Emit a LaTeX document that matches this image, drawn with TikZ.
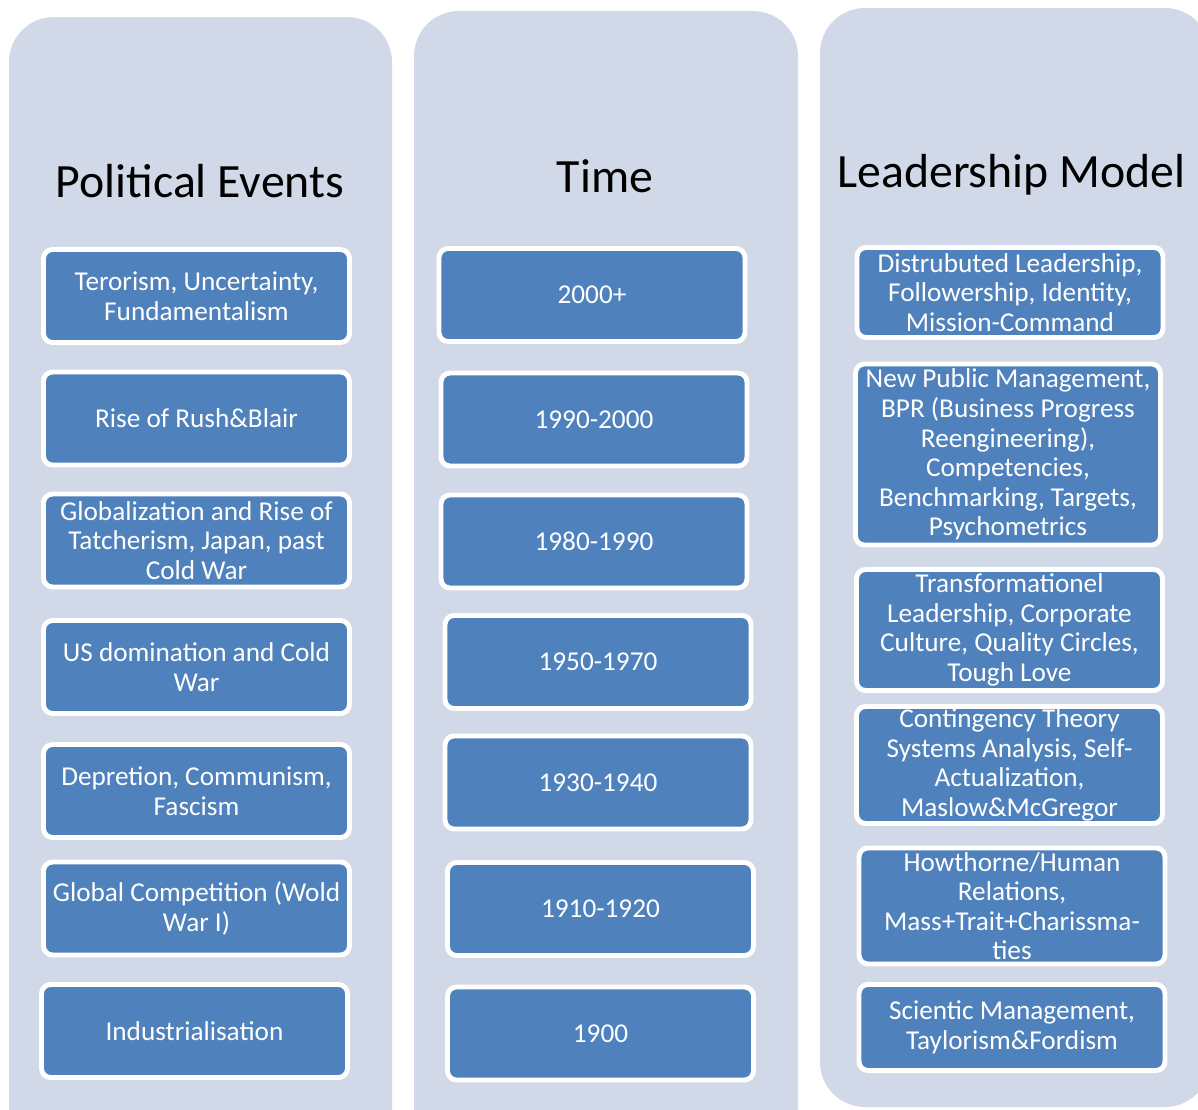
\documentclass[tikz,border=0pt]{standalone}
\usepackage{fontspec}
\setmainfont{Carlito}
\definecolor{panelgray}{HTML}{D1D8E7}
\definecolor{boxblue}{HTML}{4F81BD}
\tikzset{
  panel/.style={fill=panelgray, rounded corners=0.9cm},
  heading/.style={anchor=base, font=\fontsize{27.2}{31}\selectfont, text=black},
  itembox/.style={fill=boxblue, draw=white, line width=2.8pt, rounded corners=0.18cm,
    minimum width=6.12cm, minimum height=1.86cm, inner sep=0pt, align=center,
    text=white, font=\fontsize{15.5}{16.8}\selectfont}
}
\begin{document}
\begin{tikzpicture}[x=0.02cm, y=-0.02cm]
\useasboundingbox (0,0) rectangle (1198,1110);
\clip (0,0) rectangle (1198,1110);

%--- Background panels ---
\fill[panel] (9,17) rectangle (392,1170);
\fill[panel] (414,11) rectangle (798,1170);
\fill[panel] (820,8) rectangle (1210,1107);

%--- Political events ---
\node[heading] (pehead) at (200,197) {Political Events};
\node[itembox] (pe1) at (196.5,296) {Terorism, Uncertainty,\\Fundamentalism};
\node[itembox] (pe2) at (196.5,418.5) {Rise of Rush\&Blair};
\node[itembox] (pe3) at (196.5,540.5) {Globalization and Rise of\\Tatcherism, Japan, past\\Cold War};
\node[itembox] (pe4) at (196.5,667) {US domination and Cold\\War};
\node[itembox] (pe5) at (196.5,791) {Depretion, Communism,\\Fascism};
\node[itembox] (pe6) at (196.5,908.5) {Global Competition (Wold\\War I)};
\node[itembox] (pe7) at (194.5,1031) {Industrialisation};

%--- Time ---
\node[heading] (thead) at (605,192) {Time};
\node[itembox] (t1) at (592,295) {2000+};
\node[itembox] (t2) at (594,419.5) {1990-2000};
\node[itembox] (t3) at (594,541.5) {1980-1990};
\node[itembox] (t4) at (598,662) {1950-1970};
\node[itembox] (t5) at (598,782.5) {1930-1940};
\node[itembox] (t6) at (600.5,909) {1910-1920};
\node[itembox] (t7) at (600.5,1033.5) {1900};

%--- Leadership model ---
\node[heading] (lmhead) at (1011.5,187) {Leadership Model};
\node[itembox, minimum height=1.8cm] (lm1) at (1010,292.5)
  {Distrubuted Leadership,\\Followership, Identity,\\Mission-Command};
\node[itembox, minimum width=6.1cm, minimum height=3.62cm] (lm2) at (1008,454.5)
  {New Public Management,\\BPR (Business Progress\\Reengineering),\\Competencies,\\Benchmarking, Targets,\\Psychometrics};
\node[itembox, minimum height=2.42cm] (lm3) at (1009.5,630)
  {Transformationel\\Leadership, Corporate\\Culture, Quality Circles,\\Tough Love};
\node[itembox, minimum height=2.34cm] (lm4) at (1009.5,765)
  {Contingency Theory\\Systems Analysis, Self-\\Actualization,\\Maslow\&McGregor};
\node[itembox, minimum height=2.32cm] (lm5) at (1012,906)
  {Howthorne/Human\\Relations,\\Mass+Trait+Charissma-\\ties};
\node[itembox, minimum height=1.72cm] (lm6) at (1012,1027.5)
  {Scientic Management,\\Taylorism\&Fordism};

\end{tikzpicture}
\end{document}
